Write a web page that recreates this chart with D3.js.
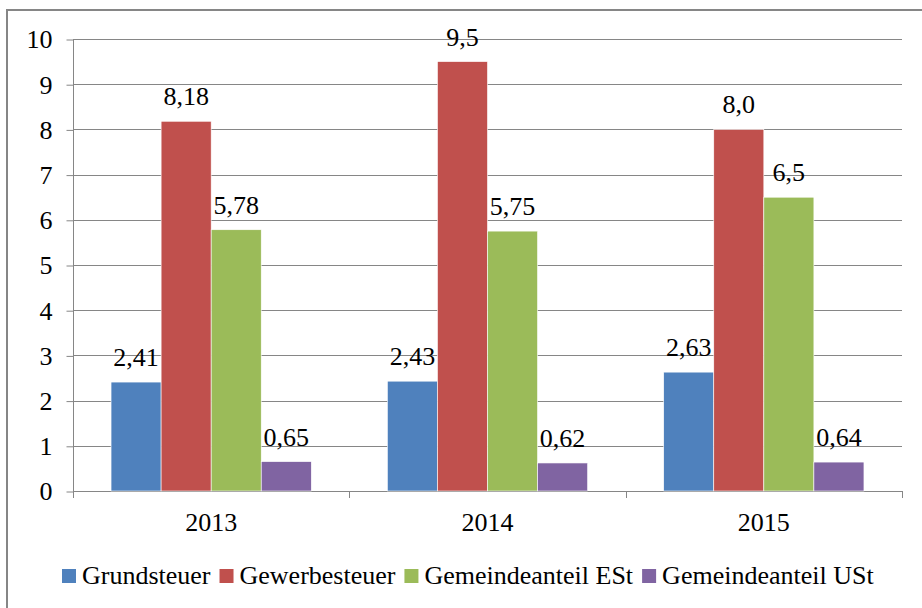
<!DOCTYPE html>
<html>
<head>
<meta charset="utf-8">
<script src="https://cdn.jsdelivr.net/npm/d3@7"></script>
<style>
    body { margin: 0; background: #fff; overflow: hidden; }
</style>
</head>
<body>
<svg id="chart" width="922" height="608"></svg>
<script>
const years = ["2013", "2014", "2015"];
const series_names = ["Grundsteuer", "Gewerbesteuer", "Gemeindeanteil ESt", "Gemeindeanteil USt"];
const series_colors = ["#4f81bd", "#c0504d", "#9bbb59", "#8064a2"];
const grundsteuer = [2.41, 2.43, 2.63];
const gewerbesteuer = [8.18, 9.5, 8.0];
const anteil_est = [5.78, 5.75, 6.5];
const anteil_ust = [0.65, 0.62, 0.64];
const value_labels = [
    ["2,41", "2,43", "2,63"],
    ["8,18", "9,5", "8,0"],
    ["5,78", "5,75", "6,5"],
    ["0,65", "0,62", "0,64"]
];
const y_ticks = [0, 1, 2, 3, 4, 5, 6, 7, 8, 9, 10];

const all_series = [grundsteuer, gewerbesteuer, anteil_est, anteil_ust];
const grid_color = "#868686";
const serif = "'Liberation Serif', 'Times New Roman', serif";
const font_size = 26;

const svg = d3.select("#chart")
    .attr("font-family", serif);

// outer frame (cut off on the right and at the bottom)
svg.append("rect")
    .attr("x", 7).attr("y", 10)
    .attr("width", 940).attr("height", 620)
    .attr("fill", "none")
    .attr("stroke", grid_color)
    .attr("stroke-width", 2);

const plot_left = 73, plot_right = 902, plot_top = 39, plot_bottom = 491;

const x_scale = d3.scaleBand()
    .domain(years)
    .range([plot_left, plot_right])
    .padding(0);

const inner = d3.scaleBand()
    .domain(d3.range(series_names.length))
    .range([0, x_scale.bandwidth()])
    .paddingOuter(0.76)
    .paddingInner(0);

const y_scale = d3.scaleLinear()
    .domain([0, 10])
    .range([plot_bottom, plot_top]);

// gridlines
svg.append("g")
    .selectAll("line")
    .data(y_ticks)
    .enter().append("line")
    .attr("x1", plot_left).attr("x2", plot_right)
    .attr("y1", d => Math.round(y_scale(d)) + 0.5)
    .attr("y2", d => Math.round(y_scale(d)) + 0.5)
    .attr("stroke", grid_color);

// y axis
const y_axis = d3.axisLeft(y_scale)
    .tickValues(y_ticks)
    .tickSize(7)
    .tickPadding(14)
    .tickFormat(d3.format("d"));
const yg = svg.append("g")
    .attr("transform", "translate(" + (plot_left + 0.5) + ",0.5)")
    .call(y_axis)
    .attr("font-family", serif)
    .attr("font-size", font_size);
yg.selectAll("line, path").attr("stroke", grid_color);
yg.select(".domain").attr("d", "M0," + (plot_top - 0.5) + "V" + (plot_bottom - 0.5));
yg.selectAll("text").attr("fill", "#000");

// x axis with ticks at category boundaries
const xg = svg.append("g");
xg.append("line")
    .attr("x1", plot_left).attr("x2", plot_right)
    .attr("y1", plot_bottom + 0.5).attr("y2", plot_bottom + 0.5)
    .attr("stroke", grid_color);
xg.selectAll("line.tick")
    .data(years.concat(["end"]))
    .enter().append("line")
    .attr("class", "tick")
    .attr("x1", (d, i) => Math.round(plot_left + i * x_scale.step()) + 0.5)
    .attr("x2", (d, i) => Math.round(plot_left + i * x_scale.step()) + 0.5)
    .attr("y1", plot_bottom).attr("y2", plot_bottom + 7)
    .attr("stroke", grid_color);
xg.selectAll("text")
    .data(years)
    .enter().append("text")
    .attr("x", d => x_scale(d) + x_scale.bandwidth() / 2)
    .attr("y", plot_bottom + 40)
    .attr("text-anchor", "middle")
    .attr("font-size", font_size)
    .text(d => d);

// bars
all_series.forEach((vals, s) => {
    svg.append("g").selectAll("rect")
        .data(vals)
        .enter().append("rect")
        .attr("x", (d, i) => x_scale(years[i]) + inner(s))
        .attr("y", d => y_scale(d))
        .attr("width", inner.bandwidth())
        .attr("height", d => y_scale(0) - y_scale(d))
        .attr("fill", series_colors[s])
        .attr("stroke", "#fff")
        .attr("stroke-width", 0.6);
});

// value labels on top of everything
all_series.forEach((vals, s) => {
    svg.append("g").selectAll("text")
        .data(vals)
        .enter().append("text")
        .attr("x", (d, i) => x_scale(years[i]) + inner(s) + inner.bandwidth() / 2)
        .attr("y", d => y_scale(d) - 16)
        .attr("text-anchor", "middle")
        .attr("font-size", font_size)
        .text((d, i) => value_labels[s][i]);
});

// legend
const legend = svg.append("g").attr("transform", "translate(62,584)");
let lx = 0;
series_names.forEach((name, i) => {
    const item = legend.append("g").attr("transform", "translate(" + lx + ",0)");
    item.append("rect")
        .attr("x", 0).attr("y", -15)
        .attr("width", 14).attr("height", 14)
        .attr("fill", series_colors[i]);
    const t = item.append("text")
        .attr("x", 20).attr("y", 0)
        .attr("font-size", font_size)
        .text(name);
    lx += 20 + t.node().getComputedTextLength() + 9;
});
</script>
</body>
</html>
